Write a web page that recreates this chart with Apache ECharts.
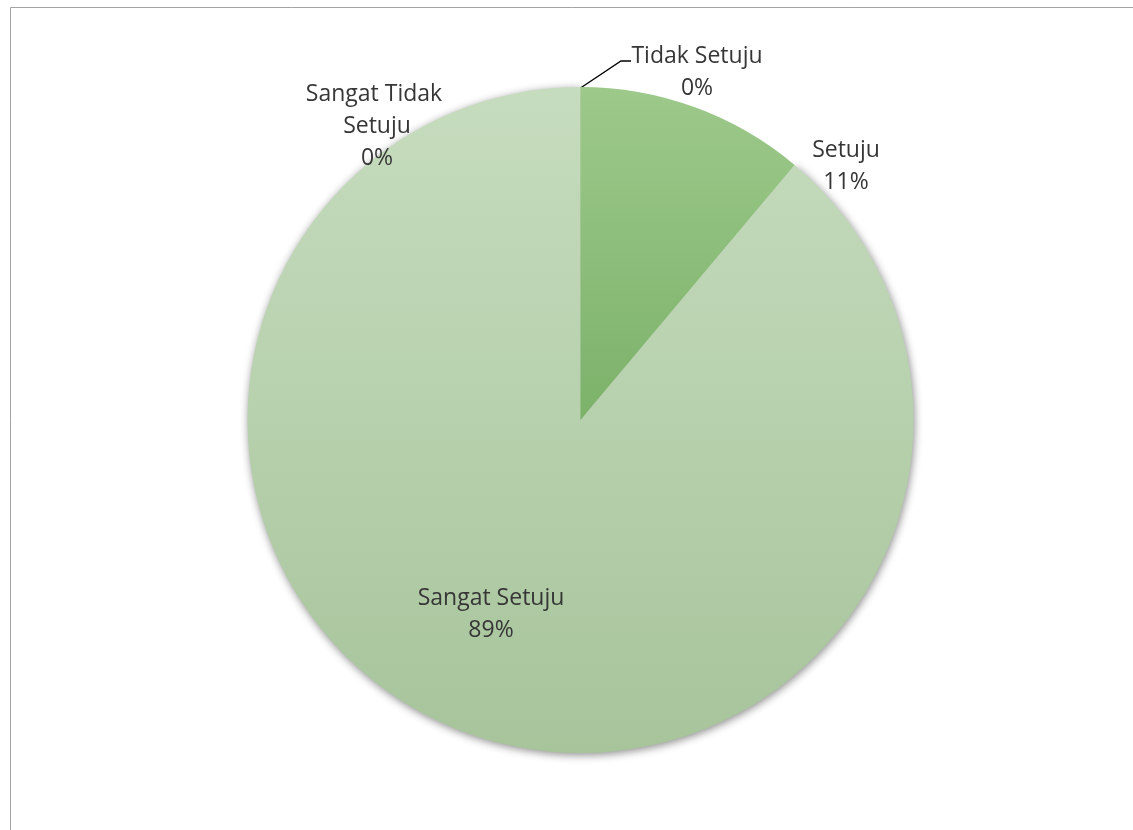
<!DOCTYPE html>
<html>
<head>
<meta charset="utf-8">
<script src="https://cdn.jsdelivr.net/npm/echarts@6/dist/echarts.min.js"></script>
<style>
html,body{margin:0;padding:0;background:#fff;}
#chart{width:1133px;height:830px;}
</style>
</head>
<body>
<div id="chart"></div>
<script>
// Data (drawn counter-clockwise from 12 o'clock)
const categories = ['Sangat Tidak Setuju', 'Sangat Setuju', 'Setuju', 'Tidak Setuju'];
const values = [0, 8, 1, 0];

// Label anchor positions (layout only), per category
const labelPos = {
  'Sangat Tidak Setuju': [377, 126],
  'Sangat Setuju': [491, 614],
  'Setuju': [846, 166],
  'Tidak Setuju': [697, 72]
};

const CX = 580.5, CY = 420, R = 333;

function grad(top, bottom, y0, y1) {
  return new echarts.graphic.LinearGradient(0, y0, 0, y1, [
    {offset: 0, color: top}, {offset: 1, color: bottom}
  ], true);
}

const styles = {
  'Sangat Tidak Setuju': {color: '#c4dabb'},
  'Sangat Setuju': {
    color: grad('#c6dcbe', '#a7c49b', CY - R, CY + R),
    shadowBlur: 9, shadowColor: 'rgba(0,0,0,0.45)', shadowOffsetX: 1, shadowOffsetY: 2
  },
  'Setuju': {color: grad('#9dc98b', '#7cb26a', CY - R, CY)},
  'Tidak Setuju': {color: '#9dc98b'}
};

const chart = echarts.init(document.getElementById('chart'), null, {renderer: 'canvas'});

const option = {
  animation: false,
  backgroundColor: '#ffffff',
  graphic: [{
    type: 'rect', silent: true, z: -10,
    shape: {x: 10.5, y: 7.5, width: 1300, height: 1000},
    style: {fill: 'none', stroke: '#a3a3a3', lineWidth: 1}
  }],
  series: [{
    type: 'pie',
    center: [CX, CY],
    radius: [0, R],
    startAngle: 90,
    clockwise: false,
    percentPrecision: 0,
    avoidLabelOverlap: false,
    stillShowZeroSum: true,
    minAngle: 0,
    label: {
      show: true,
      position: 'outside',
      formatter: p => p.name + '\n' + p.percent + '%',
      fontFamily: 'Open Sans',
      fontSize: 23,
      lineHeight: 32,
      color: '#363636',
      align: 'center'
    },
    labelLine: {show: false, lineStyle: {color: '#000', width: 1.3}},
    labelLayout: function (params) {
      const name = categories[params.dataIndex];
      const pos = labelPos[name];
      const out = {x: pos[0], y: pos[1], align: 'center', verticalAlign: 'middle'};
      if (name === 'Tidak Setuju') {
        out.labelLinePoints = [[CX, CY - R + 1], [621, 61], [631, 61]];
      }
      return out;
    },
    data: categories.map((c, i) => {
      const item = {name: c, value: values[i], itemStyle: Object.assign({borderWidth: 0}, styles[c])};
      if (c === 'Sangat Tidak Setuju') {
        item.label = {width: 150, overflow: 'break'};
      }
      if (c === 'Tidak Setuju') {
        item.labelLine = {show: true};
      }
      return item;
    })
  }]
};
chart.setOption(option);
</script>
</body>
</html>
